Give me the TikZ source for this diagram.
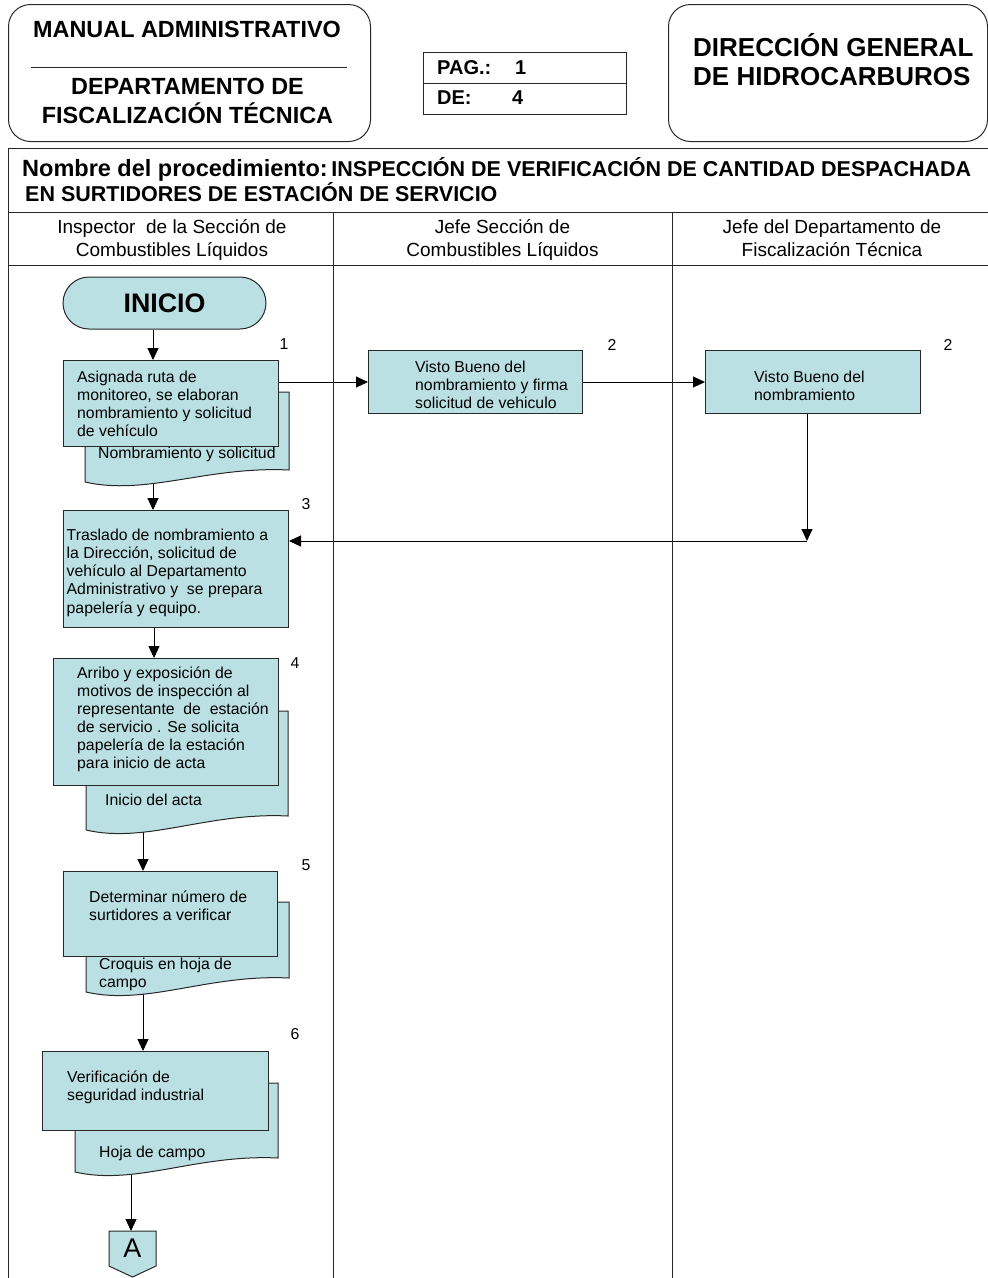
\documentclass[tikz,border=0pt]{standalone}
\usepackage{fontspec}
\setmainfont{Liberation Sans}
\usetikzlibrary{arrows.meta}
\pgfdeclarelayer{back}
\pgfsetlayers{back,main}
\definecolor{stepfill}{RGB}{187,224,227}
\definecolor{inkline}{RGB}{40,40,40}
\newcommand\fsz[2]{\fontsize{#1}{#2}\selectfont}
% first-line strut: fixes the distance from a text block's top to its first baseline
\newcommand\tstrut{\rule{0pt}{13pt}}
\newcommand\hstrut[1]{\rule{0pt}{#1pt}}
% document symbol: x-left, x-right, top, bottom at left, bottom at right
\newcommand\papershape[5]{%
  \filldraw[docstyle] (#1,#3) -- (#2,#3) -- (#2,#5)
    .. controls ({#1+0.6*(#2-#1)},{#5-4}) and ({#1+0.3*(#2-#1)},{#4+14}) .. (#1,#4) -- cycle;}
\begin{document}
\begin{tikzpicture}[x=1pt,y=-1pt,
  stepbox/.style={draw=inkline, fill=stepfill, line width=1pt, inner sep=0pt, anchor=north west},
  docstyle/.style={draw=inkline, fill=stepfill, line width=1pt},
  txt/.style={anchor=north west, inner sep=0pt, align=left, font=\fsz{15.8}{18}},
  num/.style={inner sep=0pt, font=\fsz{15.8}{18}},
  arr/.style={draw=black, line width=1pt, -{Triangle[length=12pt,width=11pt]}},
  frame/.style={draw=inkline, line width=1pt},
  hdr/.style={inner sep=0pt, font=\bfseries\fsz{23.4}{29}},
  colhead/.style={anchor=north, inner sep=0pt, align=center, font=\fsz{19}{23}}]

\useasboundingbox (0,0) rectangle (988,1278);
\begin{pgfonlayer}{back}
  \fill[white] (0,0) rectangle (988,1278);
\end{pgfonlayer}

% ---------- page header ----------
\node[draw=inkline, line width=1pt, rounded corners=22pt, minimum width=362, minimum height=137,
      inner sep=0pt, anchor=north west] (hdrleft) at (8,4) {};
\draw[frame] (31,67) -- (347,67);
\node[hdr, anchor=base] (manual) at (187,37.5) {MANUAL ADMINISTRATIVO};
\node[hdr, anchor=north, align=center] (dept) at (187.5,76)
  {\hstrut{18}DEPARTAMENTO DE\\FISCALIZACIÓN TÉCNICA};

\node[draw=inkline, line width=1pt, minimum width=203, minimum height=62,
      inner sep=0pt, anchor=north west] (pagbox) at (423,52) {};
\draw[frame] (pagbox.west) -- (pagbox.east);
\node[anchor=base west, inner sep=0pt, font=\bfseries\fsz{20}{24}] (paglbl) at (437,74) {PAG.:};
\node[anchor=base west, inner sep=0pt, font=\bfseries\fsz{20}{24}] (pagnum) at (515,74) {1};
\node[anchor=base west, inner sep=0pt, font=\bfseries\fsz{20}{24}] (delbl) at (437,104) {DE:};
\node[anchor=base west, inner sep=0pt, font=\bfseries\fsz{20}{24}] (denum) at (512,104) {4};

\node[draw=inkline, line width=1pt, rounded corners=22pt, minimum width=319, minimum height=137,
      inner sep=0pt, anchor=north west] (hdrright) at (668,4) {};
\node[anchor=north west, inner sep=0pt, align=left, font=\bfseries\fsz{26}{29}] (direccion) at (693,32)
  {\hstrut{24}DIRECCIÓN GENERAL\\DE HIDROCARBUROS};

% ---------- table frame ----------
\draw[frame] (8,1278) -- (8,148) -- (988,148);
\draw[frame] (8,212) -- (988,212);
\draw[frame] (8,265) -- (988,265);
\draw[frame] (333,212) -- (333,1278);
\draw[frame] (672,212) -- (672,1278);

\node[anchor=base west, inner sep=0pt, font=\bfseries] (procname) at (22,176.5)
  {{\fsz{23.5}{28}Nombre del procedimiento:} {\fsz{21.5}{26}INSPECCIÓN DE VERIFICACIÓN DE CANTIDAD DESPACHADA}};
\node[anchor=base west, inner sep=0pt, font=\bfseries\fsz{21.5}{26}] (procname2) at (25,201)
  {EN SURTIDORES DE ESTACIÓN DE SERVICIO};

\node[colhead] (col1) at (172,218) {\hstrut{15}Inspector~ de la Sección de\\Combustibles Líquidos};
\node[colhead] (col2) at (502.5,218) {\hstrut{15}Jefe Sección de\\Combustibles Líquidos};
\node[colhead] (col3) at (832,218) {\hstrut{15}Jefe del Departamento de\\Fiscalización Técnica};

% ---------- flow ----------
\node[draw=inkline, fill=stepfill, line width=1pt, rounded corners=26pt, minimum width=203,
      minimum height=52, inner sep=0pt, font=\bfseries\fsz{26.8}{30}] (ini) at (164.5,303) {INICIO};

% step 1
\papershape{85}{289}{392}{482}{470}
\node[stepbox, minimum width=215, minimum height=86] (b1) at (63,360) {};
\node[txt] (t1) at (77,369) {\tstrut Asignada ruta de\\monitoreo, se elaboran\\nombramiento y solicitud\\de vehículo};
\node[txt] (t1d) at (98,445) {\tstrut Nombramiento y solicitud};
\node[num] (n1) at (284,344) {1};

% step 2 (section head)
\node[stepbox, minimum width=214, minimum height=63] (b2) at (368,350) {};
\node[txt] (t2) at (415,359) {\tstrut Visto Bueno del\\nombramiento y firma\\solicitud de vehiculo};
\node[num] (n2) at (612,345) {2};

% step 2 (department head)
\node[stepbox, minimum width=215, minimum height=63] (b3) at (705,350) {};
\node[txt] (t3) at (754,369) {\tstrut Visto Bueno del\\nombramiento};
\node[num] (n2b) at (948,345) {2};

% step 3
\node[stepbox, minimum width=225, minimum height=117] (b4) at (63,510) {};
\node[txt, font=\fsz{15.8}{18.2}] (t4) at (66.5,527) {\tstrut Traslado de nombramiento a\\la Dirección, solicitud de\\vehículo al Departamento\\Administrativo y~ se prepara\\papelería y equipo.};
\node[num] (n3) at (306,504) {3};

% step 4
\papershape{86}{288}{711}{830}{816}
\node[stepbox, minimum width=225, minimum height=127] (b5) at (53,658) {};
\node[txt] (t5) at (77,665) {\tstrut Arribo y exposición de\\motivos de inspección al\\representante~ de~ estación\\de servicio . Se solicita\\papelería de la estación\\para inicio de acta};
\node[txt] (t5d) at (105,792) {\tstrut Inicio del acta};
\node[num] (n4) at (295,663) {4};

% step 5
\papershape{86}{289}{902}{992}{978}
\node[stepbox, minimum width=214, minimum height=85] (b6) at (63,871) {};
\node[txt] (t6) at (89,889) {\tstrut Determinar número de\\surtidores a verificar};
\node[txt] (t6d) at (99,956) {\tstrut Croquis en hoja de\\campo};
\node[num] (n5) at (306,865) {5};

% step 6
\papershape{75}{278}{1083}{1172}{1158}
\node[stepbox, minimum width=226, minimum height=79] (b7) at (42,1051) {};
\node[txt] (t7) at (67,1069) {\tstrut Verificación de\\seguridad industrial};
\node[txt] (t7d) at (99,1144) {\tstrut Hoja de campo};
\node[num] (n6) at (295,1034) {6};

% off-page connector
\filldraw[docstyle] (109,1231) -- (156,1231) -- (156,1266) -- (132.5,1277) -- (109,1266) -- cycle;
\node[inner sep=0pt, font=\fsz{27}{30}] (conA) at (132.5,1248.5) {A};

% ---------- connectors ----------
\coordinate (x153) at (153,0);
\coordinate (x154) at (154,0);
\coordinate (y382) at (0,382);
\coordinate (turn) at (807,541);
\coordinate (d1) at (153,480);
\coordinate (d2) at (143,826);
\coordinate (d3) at (143,988);
\coordinate (d4) at (131,1168);
\coordinate (atop) at (131,1231);
\begin{pgfonlayer}{back}
  \draw[arr] (ini.south -| x153) -- (x153 |- b1.north);
  \draw[arr] (b1.east |- y382) -- (b2.west |- y382);
  \draw[arr] (b2.east |- y382) -- (b3.west |- y382);
  \draw[arr] (b3.south -| turn) -- (turn);
  \draw[arr] (turn) -- (turn -| b4.east);
  \draw[arr] (d1) -- (d1 |- b4.north);
  \draw[arr] (b4.south -| x154) -- (x154 |- b5.north);
  \draw[arr] (d2) -- (d2 |- b6.north);
  \draw[arr] (d3) -- (d3 |- b7.north);
  \draw[arr] (d4) -- (atop);
\end{pgfonlayer}
\end{tikzpicture}
\end{document}
